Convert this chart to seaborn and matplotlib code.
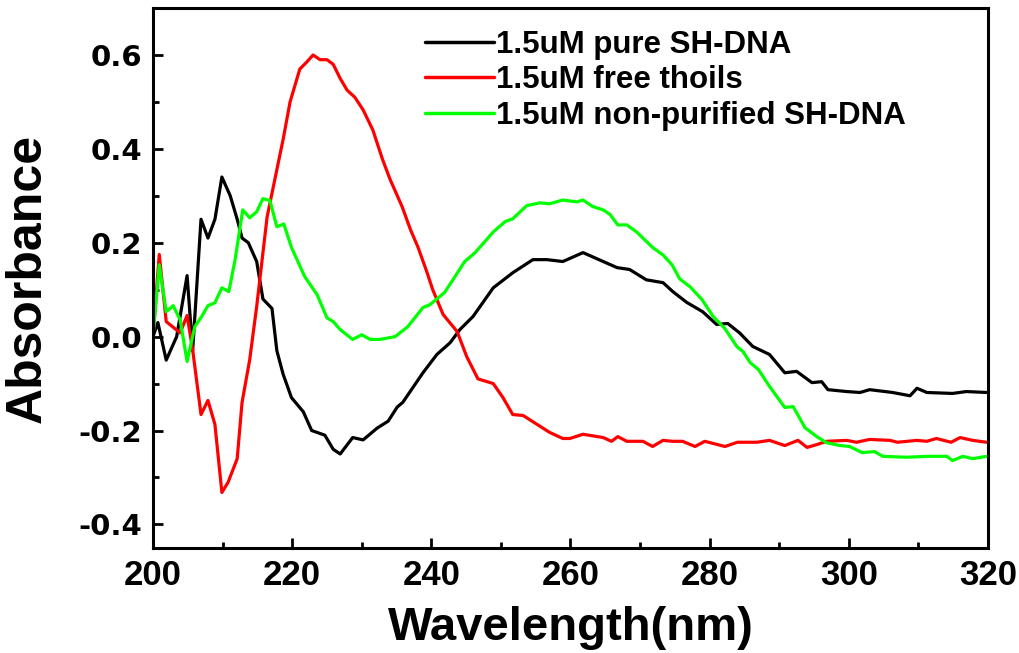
import numpy as np
import pandas as pd
import matplotlib
matplotlib.use("Agg")
import matplotlib.pyplot as plt
import seaborn as sns
from matplotlib.ticker import MultipleLocator

# pure SH-DNA (black)
pure_x = [200.0, 200.7, 201.9, 203.4, 204.9, 205.7, 206.9, 207.9, 208.9, 209.9,
          211.1, 212.1, 212.8, 213.7, 214.9, 215.8, 217.1, 217.8, 218.7, 219.9,
          221.6, 222.8, 224.7, 225.9, 226.9, 228.7, 230.2, 232.2, 233.8, 235.1,
          235.9, 238.8, 240.8, 242.7, 244.1, 246.0, 247.0, 248.9, 251.7, 254.6,
          256.6, 258.9, 261.8, 264.7, 266.7, 268.5, 270.9, 273.3, 274.7, 276.7,
          279.0, 281.0, 282.6, 284.3, 286.2, 288.6, 290.8, 292.5, 294.7, 296.1,
          297.0, 299.7, 301.6, 303.0, 306.3, 308.8, 309.8, 311.2, 314.9, 316.9,
          319.8]
pure_y = [0.0, 0.03, -0.05, 0.0, 0.13, -0.03, 0.25, 0.21, 0.25, 0.34,
          0.30, 0.25, 0.21, 0.20, 0.16, 0.08, 0.06, -0.03, -0.08, -0.13,
          -0.16, -0.20, -0.21, -0.24, -0.25, -0.215, -0.22, -0.195, -0.18, -0.15,
          -0.14, -0.077, -0.038, -0.013, 0.015, 0.043, 0.064, 0.104, 0.136, 0.164,
          0.164, 0.16, 0.179, 0.16, 0.147, 0.143, 0.121, 0.115, 0.096, 0.073,
          0.053, 0.026, 0.028, 0.008, -0.021, -0.038, -0.077, -0.074, -0.098, -0.096,
          -0.113, -0.117, -0.119, -0.113, -0.119, -0.126, -0.11, -0.119, -0.121, -0.117,
          -0.119]

# free thiols (red)
free_x = [200.0, 200.9, 201.9, 203.9, 204.9, 205.7, 206.9, 207.9, 208.9, 209.9,
          210.8, 212.1, 212.8, 213.9, 214.9, 216.4, 218.0, 218.7, 219.7, 221.1,
          222.1, 223.0, 224.0, 225.0, 225.9, 226.9, 227.9, 229.0, 230.2, 231.6,
          233.0, 234.1, 235.8, 237.0, 238.1, 239.4, 240.2, 241.7, 243.7, 245.1,
          246.7, 248.9, 250.3, 251.7, 253.2, 255.2, 257.0, 258.9, 259.9, 261.8,
          264.7, 265.9, 266.8, 268.1, 270.4, 271.8, 273.3, 274.7, 276.1, 277.9,
          279.3, 282.2, 284.0, 286.8, 288.6, 290.8, 292.7, 294.0, 295.4, 296.8,
          299.7, 301.1, 303.0, 305.9, 307.0, 309.8, 311.2, 312.6, 314.7, 316.0,
          317.8, 319.8]
free_y = [0.0, 0.175, 0.032, 0.008, 0.045, -0.028, -0.166, -0.136, -0.187, -0.332,
          -0.31, -0.26, -0.14, -0.049, 0.064, 0.255, 0.37, 0.42, 0.50, 0.57,
          0.585, 0.60, 0.59, 0.59, 0.58, 0.55, 0.525, 0.51, 0.483, 0.44,
          0.377, 0.334, 0.277, 0.228, 0.19, 0.136, 0.10, 0.047, 0.011, -0.043,
          -0.09, -0.10, -0.13, -0.166, -0.168, -0.187, -0.204, -0.217, -0.217, -0.208,
          -0.215, -0.223, -0.213, -0.223, -0.223, -0.234, -0.221, -0.223, -0.223, -0.234,
          -0.223, -0.234, -0.225, -0.225, -0.221, -0.232, -0.221, -0.236, -0.23, -0.223,
          -0.221, -0.225, -0.219, -0.221, -0.225, -0.221, -0.223, -0.217, -0.225, -0.215,
          -0.221, -0.225]

# non-purified SH-DNA (green)
crude_x = [200.0, 200.9, 201.9, 202.9, 203.9, 204.9, 206.0, 207.0, 207.9, 208.9,
           209.9, 210.9, 211.8, 212.9, 213.9, 214.9, 215.8, 216.8, 217.8, 218.8,
           219.9, 221.8, 223.6, 225.0, 225.9, 226.9, 228.7, 230.0, 231.2, 232.6,
           234.8, 236.6, 238.8, 239.8, 241.9, 243.1, 244.8, 246.3, 248.9, 250.6,
           251.7, 253.7, 255.6, 257.0, 258.9, 260.9, 261.8, 263.2, 264.7, 265.7,
           266.8, 268.1, 269.5, 271.8, 273.3, 274.6, 275.7, 277.2, 278.9, 280.5,
           282.2, 283.9, 284.8, 285.8, 287.0, 288.6, 290.8, 292.0, 293.7, 295.4,
           296.8, 298.7, 300.1, 301.9, 303.7, 304.9, 308.3, 311.2, 314.1, 314.9,
           316.4, 317.8, 319.8]
crude_y = [0.0, 0.153, 0.053, 0.066, 0.036, -0.053, 0.021, 0.043, 0.066, 0.072,
           0.104, 0.096, 0.164, 0.27, 0.253, 0.266, 0.294, 0.29, 0.234, 0.24,
           0.19, 0.128, 0.089, 0.04, 0.032, 0.015, -0.006, 0.004, -0.006, -0.006,
           0.0, 0.021, 0.062, 0.068, 0.094, 0.121, 0.16, 0.179, 0.223, 0.245,
           0.251, 0.279, 0.285, 0.283, 0.291, 0.287, 0.291, 0.277, 0.27, 0.26,
           0.238, 0.238, 0.223, 0.19, 0.174, 0.153, 0.123, 0.106, 0.079, 0.043,
           0.017, -0.021, -0.032, -0.055, -0.07, -0.106, -0.151, -0.149, -0.194, -0.213,
           -0.226, -0.232, -0.234, -0.247, -0.245, -0.255, -0.257, -0.255, -0.255, -0.264,
           -0.255, -0.26, -0.255]

labels = ["1.5uM pure SH-DNA", "1.5uM free thoils", "1.5uM non-purified SH-DNA"]
colors = ["#000000", "#ff0000", "#00ff00"]

df = pd.concat([
    pd.DataFrame({"wl": pure_x, "abs": pure_y, "sample": labels[0]}),
    pd.DataFrame({"wl": free_x, "abs": free_y, "sample": labels[1]}),
    pd.DataFrame({"wl": crude_x, "abs": crude_y, "sample": labels[2]}),
], ignore_index=True)

sns.set_style("ticks")
plt.rcParams["font.family"] = ["Liberation Sans", "DejaVu Sans"]
plt.rcParams["text.color"] = "black"
plt.rcParams["axes.labelcolor"] = "black"
plt.rcParams["xtick.color"] = "black"
plt.rcParams["ytick.color"] = "black"
plt.rcParams["axes.edgecolor"] = "black"

fig = plt.figure(figsize=(10.2, 6.53), dpi=100)
ax = fig.add_axes([0.15, 0.161, 0.8186, 0.8267])

sns.lineplot(data=df, x="wl", y="abs", hue="sample", palette=colors,
             hue_order=labels, sort=False, estimator=None, linewidth=2.3, ax=ax)

ax.set_xlim(200, 320)
ax.set_ylim(-0.45, 0.7)
ax.xaxis.set_minor_locator(MultipleLocator(10))
ax.yaxis.set_minor_locator(MultipleLocator(0.1))
ax.set_xticks(np.arange(200, 321, 20))
ax.set_xticklabels([str(v) for v in range(200, 321, 20)])
ax.set_yticks([-0.4, -0.2, 0.0, 0.2, 0.4, 0.6])
ax.set_yticklabels(["-0.4", "-0.2", "0.0", "0.2", "0.4", "0.6"])

for s in ax.spines.values():
    s.set_linewidth(2.2)
    s.set_visible(True)
ax.tick_params(which="major", direction="in", length=7, width=2, pad=8)
ax.tick_params(which="minor", direction="in", length=4, width=2)
ax.tick_params(top=False, right=False, which="both")

for t in ax.get_xticklabels():
    t.set_fontsize(25)
    t.set_fontweight("bold")
for t in ax.get_yticklabels():
    t.set_family("DejaVu Sans")
    t.set_fontsize(21)
    t.set_fontweight("bold")

ax.set_xlabel("Wavelength(nm)", fontsize=34, fontweight="bold", labelpad=10)
ax.set_ylabel("Absorbance", fontsize=36, fontweight="bold", labelpad=20,
              family=["Liberation Sans Narrow", "Liberation Sans"])

leg = ax.legend(loc="upper left", bbox_to_anchor=(0.326, 0.96), frameon=False,
                fontsize=22.5, handlelength=2.2, handletextpad=0.05,
                labelspacing=0.18, borderpad=0, borderaxespad=0)
for t in leg.get_texts():
    t.set_fontweight("bold")
for h in leg.legend_handles:
    h.set_linewidth(2.5)

fig.savefig("out.png", dpi=100)
